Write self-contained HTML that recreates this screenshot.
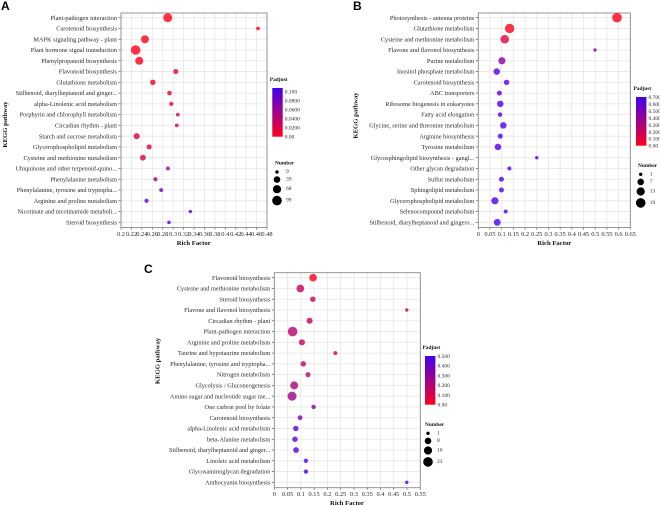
<!DOCTYPE html>
<html lang="en">
<head>
<meta charset="utf-8">
<title>KEGG pathway enrichment bubble charts</title>
<style>
html,body{margin:0;padding:0;background:#fff;overflow:hidden;}
svg{display:block;filter:blur(0.3px);}
text{font-family:"Liberation Serif",serif;fill:#2b2b2b;}
.panel-letter{font-family:"Liberation Sans",sans-serif;font-weight:700;font-size:12px;fill:#000;}
.axis-title{font-weight:700;font-size:6.7px;fill:#111;}
.legend-title{font-weight:700;font-size:5.4px;fill:#111;}
.legend-label{font-size:5.5px;}
.tick-label{font-size:6.4px;}
.cat-label{font-size:6.3px;}
</style>
</head>
<body>
<svg id="chart" xmlns="http://www.w3.org/2000/svg" width="660" height="505" viewBox="0 0 660 505">
  <defs>
    <linearGradient id="padj-grad" x1="0" y1="0" x2="0" y2="1">
      <stop offset="0" stop-color="#4200ee"/>
      <stop offset="0.5" stop-color="#a00088"/>
      <stop offset="1" stop-color="#ff0020"/>
    </linearGradient>
  </defs>
  <rect width="660" height="505" fill="#fff"/>
  <text class="panel-letter" x="1" y="10">A</text>
  <text class="panel-letter" x="353" y="10">B</text>
  <text class="panel-letter" x="144" y="273">C</text>
  <g id="panel-a"></g>
  <g id="panel-b"></g>
  <g id="panel-c"></g>
</svg>
<script>
// Panel A data
const categoriesA = ["Plant-pathogen interaction","Carotenoid biosynthesis","MAPK signaling pathway - plant","Plant hormone signal transduction","Phenylpropanoid biosynthesis","Flavonoid biosynthesis","Glutathione metabolism","Stilbenoid, diarylheptanoid and ginger...","alpha-Linolenic acid metabolism","Porphyrin and chlorophyll metabolism","Circadian rhythm - plant","Starch and sucrose metabolism","Glycerophospholipid metabolism","Cysteine and methionine metabolism","Ubiquinone and other terpenoid-quino...","Phenylalanine metabolism","Phenylalanine, tyrosine and tryptopha...","Arginine and proline metabolism","Nicotinate and nicotinamide metaboli...","Steroid biosynthesis"];
const richA = [0.2896,0.4627,0.246,0.228,0.235,0.305,0.261,0.293,0.2965,0.309,0.307,0.230,0.254,0.242,0.290,0.266,0.277,0.249,0.333,0.292];
const numberA = [85,11,68,99,68,25,29,20,16,12,12,39,25,34,13,16,13,16,9,10];
const padjA = [0.001,0.002,0.001,0.001,0.001,0.004,0.007,0.010,0.014,0.030,0.030,0.024,0.022,0.022,0.050,0.052,0.090,0.098,0.100,0.100];
const xTicksA = [0.2,0.22,0.24,0.26,0.28,0.3,0.32,0.34,0.36,0.38,0.4,0.42,0.44,0.46,0.48];
const padjTickValuesA = [0.1,0.08,0.06,0.04,0.02,0];
const padjTickLabelsA = ["0.100","0.0800","0.0600","0.0400","0.0200","0.00"];
const sizeLegendA = [9,39,68,99];

// Panel B data
const categoriesB = ["Photosynthesis - antenna proteins","Glutathione metabolism","Cysteine and methionine metabolism","Flavone and flavonol biosynthesis","Purine metabolism","Inositol phosphate metabolism","Carotenoid biosynthesis","ABC transporters","Ribosome biogenesis in eukaryotes","Fatty acid elongation","Glycine, serine and threonine metabolism","Arginine biosynthesis","Tyrosine metabolism","Glycosphingolipid biosynthesis - gangl...","Other glycan degradation","Sulfur metabolism","Sphingolipid metabolism","Glycerophospholipid metabolism","Selenocompound metabolism","Stilbenoid, diarylheptanoid and gingero..."];
const richB = [0.593,0.134,0.113,0.499,0.101,0.079,0.121,0.090,0.094,0.093,0.107,0.094,0.084,0.25,0.133,0.099,0.099,0.071,0.117,0.081];
const numberB = [19,18,15,1,10,8,5,4,8,3,8,4,8,1,2,4,4,10,2,9];
const padjB = [0.01,0.02,0.12,0.40,0.42,0.62,0.62,0.62,0.63,0.63,0.63,0.64,0.64,0.65,0.65,0.65,0.65,0.65,0.66,0.66];
const xTicksB = [0,0.05,0.1,0.15,0.2,0.25,0.3,0.35,0.4,0.45,0.5,0.55,0.6,0.65];
const padjTickValuesB = [0.7,0.6,0.5,0.4,0.3,0.2,0.1,0];
const padjTickLabelsB = ["0.700","0.600","0.500","0.400","0.300","0.200","0.100","0.00"];
const sizeLegendB = [1,7,13,19];

// Panel C data
const categoriesC = ["Flavonoid biosynthesis","Cysteine and methionine metabolism","Steroid biosynthesis","Flavone and flavonol biosynthesis","Circadian rhythm - plant","Plant-pathogen interaction","Arginine and proline metabolism","Taurine and hypotaurine metabolism","Phenylalanine, tyrosine and tryptopha...","Nitrogen metabolism","Glycolysis / Gluconeogenesis","Amino sugar and nucleotide sugar me...","One carbon pool by folate","Carotenoid biosynthesis","alpha-Linolenic acid metabolism","beta-Alanine metabolism","Stilbenoid, diarylheptanoid and ginger...","Linoleic acid metabolism","Glycosaminoglycan degradation","Anthocyanin biosynthesis"];
const richC = [0.146,0.098,0.145,0.499,0.133,0.069,0.104,0.23,0.109,0.127,0.075,0.067,0.148,0.097,0.081,0.078,0.082,0.119,0.119,0.499];
const numberC = [14,14,6,1,8,23,8,2,6,5,15,20,3,4,6,6,7,3,3,1];
const padjC = [0.01,0.14,0.13,0.12,0.15,0.19,0.16,0.14,0.17,0.18,0.21,0.25,0.31,0.38,0.43,0.44,0.44,0.47,0.47,0.48];
const xTicksC = [0,0.05,0.1,0.15,0.2,0.25,0.3,0.35,0.4,0.45,0.5,0.55];
const padjTickValuesC = [0.5,0.4,0.3,0.2,0.1,0];
const padjTickLabelsC = ["0.500","0.400","0.300","0.200","0.100","0.00"];
const sizeLegendC = [1,8,16,23];

const NS = "http://www.w3.org/2000/svg";
const RMIN = 1.7, RMAX = 4.8;

function make(parent, tag, attrs, txt) {
  const el = document.createElementNS(NS, tag);
  for (const k in attrs) el.setAttribute(k, attrs[k]);
  if (txt !== undefined) el.textContent = txt;
  parent.appendChild(el);
  return el;
}

function colorFor(value, max) {
  const t = Math.min(1, Math.max(0, value / max));
  const r = Math.round(255 + (64 - 255) * t);
  const g = 0;
  const b = Math.round(20 + (255 - 20) * t);
  return "rgb(" + r + "," + g + "," + b + ")";
}

function drawPanel(id, cfg) {
  const g = document.getElementById(id);
  const xScale = v => cfg.left + (v - cfg.xMin) / (cfg.xMax - cfg.xMin) * (cfg.right - cfg.left);
  const yScale = i => cfg.firstRow + i * cfg.rowStep;
  const sizeMin = Math.min.apply(null, cfg.sizeLegend);
  const sizeMax = Math.max.apply(null, cfg.sizeLegend);
  const rScale = n => {
    const f = Math.max(0, (n - sizeMin) / (sizeMax - sizeMin));
    return Math.sqrt(RMIN * RMIN + f * (RMAX * RMAX - RMIN * RMIN));
  };
  const padjY = v => cfg.barBottom - v / cfg.barMax * (cfg.barBottom - cfg.barTop);

  // vertical grid and x ticks
  cfg.xTicks.forEach(function (t) {
    const x = xScale(t);
    const grid = make(g, "line", {x1: x, x2: x, y1: cfg.top, y2: cfg.bottom, stroke: "#e6e6e6", "stroke-width": 0.8});
    
    
    const tick = make(g, "line", {x1: x, x2: x, y1: cfg.bottom, y2: cfg.bottom + 2, stroke: "#555", "stroke-width": 0.7});
    
    
    const lab = make(g, "text", {class: "tick-label", x: x, y: cfg.bottom + 8.4, "text-anchor": "middle"}, String(t));
    
    
  });

  // horizontal grid, y ticks, category labels
  cfg.categories.forEach(function (c, i) {
    const y = yScale(i);
    const grid = make(g, "line", {x1: cfg.left, x2: cfg.right, y1: y, y2: y, stroke: "#e6e6e6", "stroke-width": 0.8});
    
    
    const tick = make(g, "line", {x1: cfg.left - 2.5, x2: cfg.left, y1: y, y2: y, stroke: "#555", "stroke-width": 0.7});
    
    
    const lab = make(g, "text", {class: "cat-label", x: cfg.left - 4, y: y + 2.1, "text-anchor": "end"}, c);
    
    
  });

  // plot border
  const frame = make(g, "rect", {x: cfg.left, y: cfg.top, width: cfg.right - cfg.left, height: cfg.bottom - cfg.top, fill: "none", stroke: "#8a8a8a", "stroke-width": 0.9});
  
  

  // bubbles
  cfg.rich.forEach(function (v, i) {
    const dot = make(g, "circle", {cx: xScale(v), cy: yScale(i), r: rScale(cfg.number[i]), fill: colorFor(cfg.padj[i], cfg.barMax), "fill-opacity": 0.8});
    
    
  });

  // axis titles
  const xt = make(g, "text", {class: "axis-title", x: cfg.xTitleX, y: cfg.bottom + 17.5, "text-anchor": "middle"}, "Rich Factor");
  
  
  const yt = make(g, "text", {class: "axis-title", transform: "translate(" + cfg.yTitleX + "," + cfg.yTitleY + ") rotate(-90)", "text-anchor": "middle"}, "KEGG pathway");
  
  

  // colour legend
  const lt = make(g, "text", {class: "legend-title", x: cfg.barLeft - 2.5, y: cfg.barTop - 7}, "Padjust");
  
  
  const bar = make(g, "rect", {x: cfg.barLeft, y: cfg.barTop, width: 10.4, height: cfg.barBottom - cfg.barTop, fill: "url(#padj-grad)"});
  
  
  cfg.padjTicks.forEach(function (v, i) {
    const lab = make(g, "text", {class: "legend-label", x: cfg.barLeft + 12.5, y: padjY(v) + 2}, cfg.padjLabels[i]);
    
    
  });

  // size legend
  const st = make(g, "text", {class: "legend-title", x: cfg.sizeTitleX, y: cfg.sizeTitleY}, "Number");
  
  
  let cy = cfg.sizeTitleY + 7.3;
  cfg.sizeLegend.forEach(function (n, i) {
    const r = i === 0 ? RMIN : [0, 3.3, 4.1, 4.8][i];
    if (i > 0) cy += [0, 7.6, 9.6, 11.4][i];
    const c = make(g, "circle", {cx: cfg.sizeCircleX, cy: cy, r: r, fill: "#000"});
    
    
    const lab = make(g, "text", {class: "legend-label", x: cfg.sizeCircleX + 9, y: cy + 1}, String(n));
    
    
  });
}

drawPanel("panel-a", {
  categories: categoriesA, rich: richA, number: numberA, padj: padjA, xTicks: xTicksA,
  padjTicks: padjTickValuesA, padjLabels: padjTickLabelsA, sizeLegend: sizeLegendA,
  left: 121, right: 267, top: 13, bottom: 227.5, xMin: 0.2, xMax: 0.48,
  firstRow: 17.7, rowStep: 10.77, xTitleX: 193.7, yTitleX: 7, yTitleY: 124.5,
  barLeft: 272.3, barTop: 88, barBottom: 136.7, barMax: 0.108,
  sizeTitleX: 275, sizeTitleY: 164.7, sizeCircleX: 277
});
drawPanel("panel-b", {
  categories: categoriesB, rich: richB, number: numberB, padj: padjB, xTicks: xTicksB,
  padjTicks: padjTickValuesB, padjLabels: padjTickLabelsB, sizeLegend: sizeLegendB,
  left: 478.3, right: 630.3, top: 13, bottom: 227.5, xMin: 0, xMax: 0.65,
  firstRow: 17.7, rowStep: 10.77, xTitleX: 554.3, yTitleX: 357.5, yTitleY: 115.5,
  barLeft: 636, barTop: 97, barBottom: 145.7, barMax: 0.7,
  sizeTitleX: 638, sizeTitleY: 167, sizeCircleX: 640.7
});
drawPanel("panel-c", {
  categories: categoriesC, rich: richC, number: numberC, padj: padjC, xTicks: xTicksC,
  padjTicks: padjTickValuesC, padjLabels: padjTickLabelsC, sizeLegend: sizeLegendC,
  left: 274.3, right: 420.3, top: 272.7, bottom: 487.7, xMin: 0, xMax: 0.55,
  firstRow: 277.7, rowStep: 10.77, xTitleX: 347, yTitleX: 159.5, yTitleY: 361,
  barLeft: 425, barTop: 356, barBottom: 404.7, barMax: 0.5,
  sizeTitleX: 425, sizeTitleY: 426, sizeCircleX: 428
});
</script>
</body>
</html>
